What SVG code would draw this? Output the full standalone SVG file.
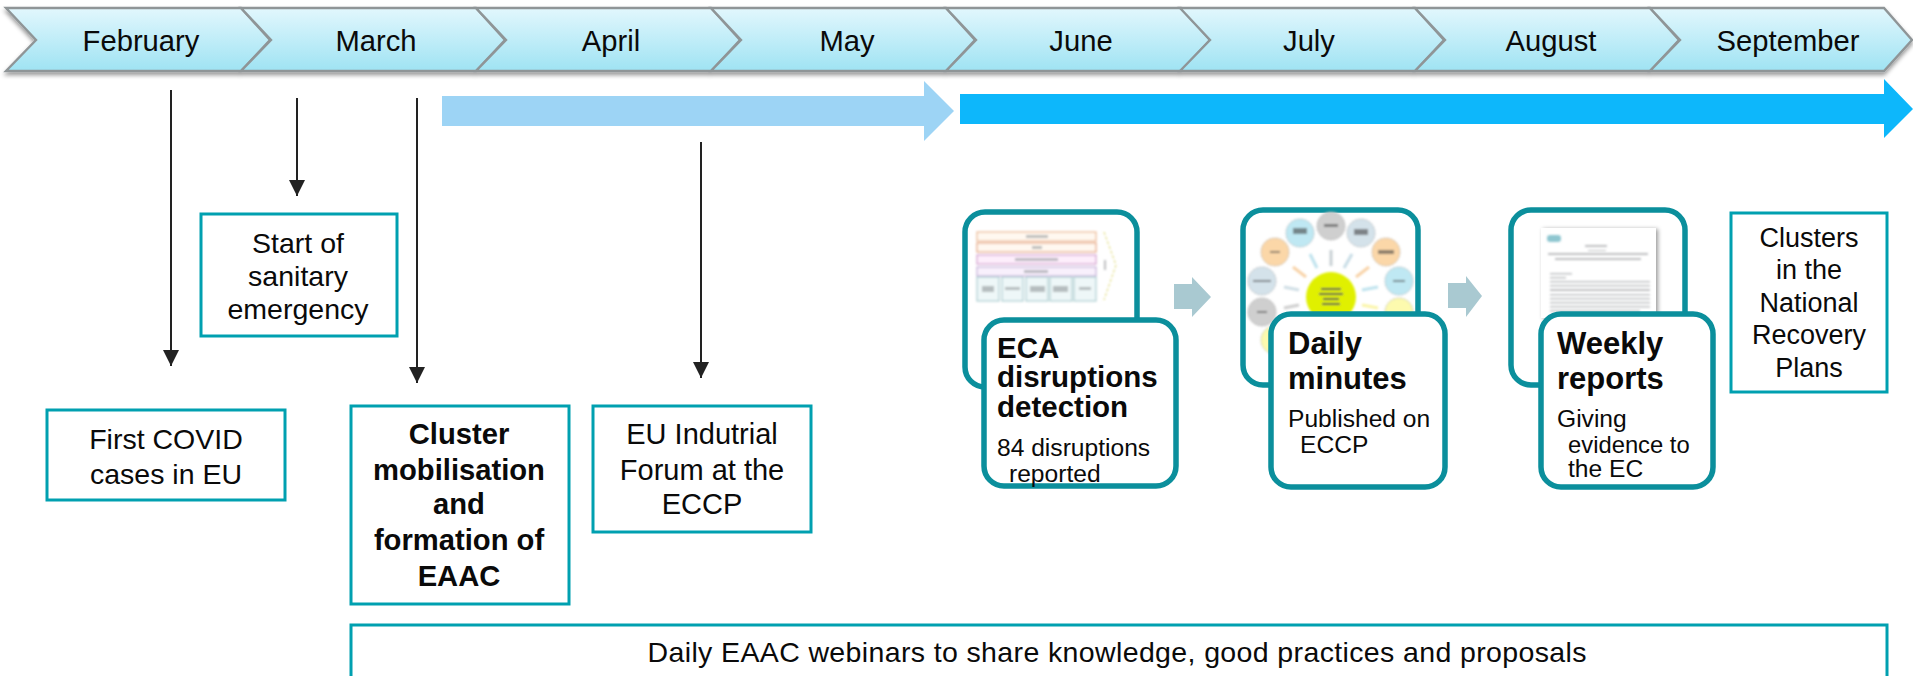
<svg xmlns="http://www.w3.org/2000/svg" width="1913" height="676" viewBox="0 0 1913 676">
<style>
text{font-family:"Liberation Sans",Arial,sans-serif;fill:#0a0a0a}
.m{font-size:29.2px;text-anchor:middle}
.t{font-size:28.5px;text-anchor:middle}
.b{font-weight:bold;font-size:29.2px}
.h{font-size:31px;font-weight:bold}
.s{font-size:24.6px}
.box{fill:#fff;stroke:#00a0b0;stroke-width:3}
.card{fill:#fff;stroke:#0b8f9c;stroke-width:5.5}
.chev{fill:url(#g);stroke:#8f9597;stroke-width:2.4;stroke-linejoin:miter}
.lk{stroke:#222;stroke-width:2;fill:none;marker-end:url(#ah)}
.tk{fill:#8a8f92;opacity:.55}
</style>
<defs>
<linearGradient id="g" x1="0" y1="0" x2="0" y2="1"><stop offset="0" stop-color="#e2f7fd"/><stop offset="1" stop-color="#9fe3f3"/></linearGradient>
<marker id="ah" markerUnits="userSpaceOnUse" markerWidth="16" markerHeight="16" refX="16" refY="8" orient="auto"><path d="M0 0L16 8L0 16Z" fill="#222"/></marker>
<filter id="sh" x="-5%" y="-10%" width="110%" height="130%"><feDropShadow dx="0" dy="3" stdDeviation="2.2" flood-color="#000" flood-opacity=".4"/></filter>
<filter id="bl" x="-5%" y="-5%" width="110%" height="110%"><feGaussianBlur stdDeviation=".9"/></filter>
<filter id="ps" x="-10%" y="-10%" width="125%" height="125%"><feDropShadow dx="2" dy="1" stdDeviation="2" flood-color="#000" flood-opacity=".4"/></filter>
<path id="c" class="chev" d="M0 8H235L264 40L235 71H0L30 40Z"/>
</defs>
<g id="timeline" filter="url(#sh)">
<use href="#c" x="6"/><use href="#c" x="241"/><use href="#c" x="476"/><use href="#c" x="711"/><use href="#c" x="946"/><use href="#c" x="1180"/><use href="#c" x="1415"/><path class="chev" d="M1650 8H1884L1912 40L1884 71H1650L1680 40Z"/>
</g>
<g id="months">
<text class="m" x="141" y="51">February</text>
<text class="m" x="376" y="51">March</text>
<text class="m" x="611" y="51">April</text>
<text class="m" x="847" y="51">May</text>
<text class="m" x="1081" y="51">June</text>
<text class="m" x="1309" y="51">July</text>
<text class="m" x="1551" y="51">August</text>
<text class="m" x="1788" y="51">September</text>
</g>
<g id="phase-arrows">
<path fill="#9dd4f5" d="M442 96H924V81L954 111L924 141V126H442Z"/>
<path fill="#0db7fb" d="M960 94H1884V79L1913 109L1884 138V124H960Z"/>
</g>
<g id="connectors">
<path class="lk" d="M171 90V366"/>
<path class="lk" d="M297 98V196"/>
<path class="lk" d="M417 98V383"/>
<path class="lk" d="M701 142V378"/>
<path fill="#a9c9d1" d="M1174 284H1192V277L1211 297L1192 317V309H1174Z"/>
<path fill="#a9c9d1" d="M1448 283H1466V276L1482 296L1466 317V308H1448Z"/>
</g>
<g id="first-covid">
<rect class="box" x="47" y="410" width="238" height="90"/>
<text class="t" x="166" y="449">First COVID</text><text class="t" x="166" y="484">cases in EU</text>
</g>
<g id="sanitary">
<rect class="box" x="201" y="214" width="196" height="122"/>
<text class="t" x="298" y="253">Start of</text><text class="t" x="298" y="286">sanitary</text><text class="t" x="298" y="319">emergency</text>
</g>
<g id="cluster">
<rect class="box" x="351" y="406" width="218" height="198"/>
<text class="t b" x="459" y="444">Cluster</text><text class="t b" x="459" y="480">mobilisation</text><text class="t b" x="459" y="514">and</text><text class="t b" x="459" y="550">formation of</text><text class="t b" x="459" y="586">EAAC</text>
</g>
<g id="forum">
<rect class="box" x="593" y="406" width="218" height="126"/>
<text class="t" x="702" y="444" style="font-size:29px">EU Indutrial</text><text class="t" x="702" y="480" style="font-size:29px">Forum at the</text><text class="t" x="702" y="514" style="font-size:29px">ECCP</text>
</g>
<g id="recovery">
<rect class="box" x="1731" y="213" width="156" height="179"/>
<g style="font-size:27px"><text class="t" style="font-size:27px" x="1809" y="247">Clusters</text><text class="t" style="font-size:27px" x="1809" y="279">in the</text><text class="t" style="font-size:27px" x="1809" y="312">National</text><text class="t" style="font-size:27px" x="1809" y="344">Recovery</text><text class="t" style="font-size:27px" x="1809" y="377">Plans</text></g>
</g>
<g id="webinars">
<rect class="box" x="351" y="625" width="1536" height="60"/>
<text class="t" x="1117" y="662" textLength="939">Daily EAAC webinars to share knowledge, good practices and proposals</text>
</g>
<g id="eca">
<rect class="card" x="965" y="212" width="172" height="175" rx="20"/>
<g filter="url(#bl)">
<rect x="977" y="232" width="119" height="9" fill="#fff8f0" stroke="#e8a878" stroke-width="1"/>
<rect x="977" y="243" width="119" height="9" fill="#fff8f0" stroke="#e09060" stroke-width="1"/>
<rect x="977" y="255" width="119" height="9" fill="#fdeefb" stroke="#c98ac4" stroke-width="1"/>
<rect x="977" y="267" width="119" height="9" fill="#f8f0fc" stroke="#b9a0d0" stroke-width="1"/>
<g fill="#eef7f8" stroke="#9cc4c8" stroke-width="1"><rect x="977" y="277" width="22" height="24"/><rect x="1002" y="277" width="21" height="24"/><rect x="1026" y="277" width="22" height="24"/><rect x="1050" y="277" width="22" height="24"/><rect x="1074" y="277" width="22" height="24"/></g>
<path d="M1104 232L1116 265L1104 300" fill="none" stroke="#dcd66a" stroke-width="1" stroke-dasharray="3 2"/>
<g class="tk"><rect x="1026" y="235" width="22" height="3"/><rect x="1032" y="246" width="10" height="3"/><rect x="1015" y="258" width="43" height="3"/><rect x="1024" y="270" width="24" height="3"/><rect x="982" y="286" width="12" height="6"/><rect x="1005" y="287" width="15" height="3"/><rect x="1030" y="286" width="15" height="6"/><rect x="1053" y="286" width="15" height="6"/><rect x="1079" y="287" width="12" height="3"/><rect x="1104" y="260" width="2" height="10"/></g>
</g>
<rect class="card" x="984" y="320" width="192" height="166" rx="20"/>
<text class="h" style="font-size:29.5px" x="997" y="358">ECA</text>
<text class="h" style="font-size:29.5px" x="997" y="387">disruptions</text>
<text class="h" style="font-size:29.5px" x="997" y="417">detection</text>
<text class="s" x="997" y="456">84 disruptions</text>
<text class="s" x="1009" y="482">reported</text>
</g>
<g id="minutes">
<rect class="card" x="1243" y="210" width="175" height="175" rx="20"/>
<g filter="url(#bl)">
<g stroke="#999" stroke-width=".7" stroke-dasharray="2 1.5">
<circle cx="1300" cy="233" r="14" fill="#bfe8f3"/><circle cx="1331" cy="226" r="14" fill="#cfcfcf"/><circle cx="1361" cy="233" r="14" fill="#d4e2ea"/><circle cx="1386" cy="252" r="14" fill="#fbd7a8"/><circle cx="1399" cy="281" r="14" fill="#bfe8f3"/><circle cx="1399" cy="312" r="14" fill="#fdfaae"/><circle cx="1275" cy="252" r="14" fill="#fbd7a8"/><circle cx="1262" cy="281" r="14" fill="#d4e2ea"/><circle cx="1262" cy="312" r="14" fill="#cfcfcf"/><circle cx="1275" cy="340" r="14" fill="#fdfaae"/>
</g>
<circle cx="1331" cy="297" r="25" fill="#e0f000"/>
<g stroke-width="3"><path d="M1331 250V266" stroke="#c8d0d4"/><path d="M1310 254L1317 268" stroke="#bfe3ee"/><path d="M1352 254L1344 268" stroke="#c8dde6"/><path d="M1293 267L1306 277" stroke="#f8d3a8"/><path d="M1369 267L1356 277" stroke="#f8d3a8"/><path d="M1284 287L1299 290" stroke="#d0dfe6"/><path d="M1378 287L1362 290" stroke="#bfe3ee"/><path d="M1284 308L1299 305" stroke="#cfcfcf"/><path d="M1378 308L1362 305" stroke="#fbf5a8"/></g>
<g fill="#444"><rect x="1321" y="288" width="20" height="2"/><rect x="1319" y="293" width="24" height="2"/><rect x="1323" y="298" width="16" height="2"/><rect x="1322" y="303" width="18" height="2"/><rect x="1293" y="228" width="14" height="6" opacity=".6"/><rect x="1324" y="224" width="14" height="3" opacity=".6"/><rect x="1354" y="229" width="14" height="6" opacity=".6"/><rect x="1378" y="250" width="16" height="4" opacity=".6"/><rect x="1393" y="280" width="12" height="2" opacity=".6"/><rect x="1270" y="251" width="10" height="2" opacity=".6"/><rect x="1253" y="280" width="18" height="2" opacity=".6"/><rect x="1257" y="311" width="10" height="2" opacity=".6"/></g>
</g>
<rect class="card" x="1271" y="314" width="174" height="173" rx="20"/>
<text class="h" x="1288" y="354">Daily</text><text class="h" x="1288" y="389">minutes</text>
<text class="s" x="1288" y="427">Published on</text><text class="s" x="1300" y="453">ECCP</text>
</g>
<g id="reports">
<rect class="card" x="1511" y="210" width="174" height="175" rx="20"/>
<rect x="1541" y="228" width="115" height="90" fill="#fff" filter="url(#ps)"/>
<g filter="url(#bl)">
<rect x="1547" y="235" width="14" height="7" rx="3" fill="#8ec6d0"/>
<g class="tk"><rect x="1585" y="245" width="22" height="2"/><rect x="1588" y="250" width="18" height="1"/><rect x="1548" y="253" width="100" height="2"/><rect x="1555" y="258" width="86" height="2"/><rect x="1550" y="273" width="22" height="1.5"/><rect x="1550" y="277" width="16" height="1.5"/><rect x="1550" y="281" width="100" height="1.5"/><rect x="1550" y="285" width="100" height="1.5"/><rect x="1550" y="289" width="100" height="2"/><rect x="1550" y="294" width="100" height="1.5"/><rect x="1550" y="298" width="100" height="1.5"/><rect x="1550" y="302" width="100" height="1.5"/><rect x="1550" y="306" width="100" height="1.5"/><rect x="1550" y="310" width="90" height="1.5"/></g>
</g>
<rect class="card" x="1541" y="314" width="172" height="173" rx="20"/>
<text class="h" x="1557" y="354">Weekly</text><text class="h" x="1557" y="389">reports</text>
<text class="s" x="1557" y="427">Giving</text><text class="s" style="font-size:23.8px" x="1568" y="453">evidence to</text><text class="s" x="1568" y="477">the EC</text>
</g>
</svg>
